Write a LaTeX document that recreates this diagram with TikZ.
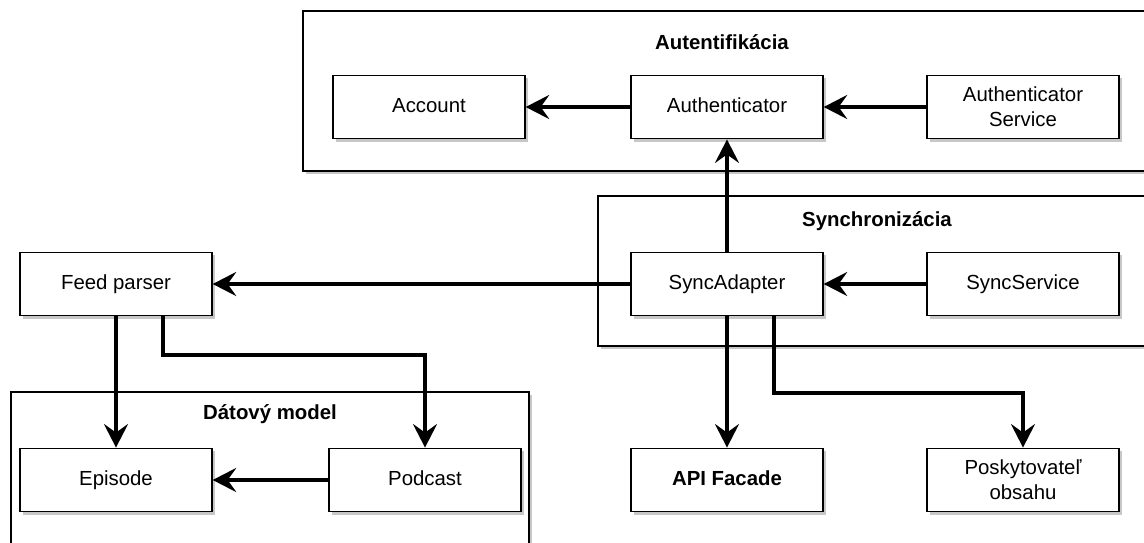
\documentclass[tikz,border=0pt]{standalone}
\usepackage{fontspec}
\setmainfont{Liberation Sans}
\usetikzlibrary{arrows.meta,shadows}

\begin{document}
\begin{tikzpicture}[x=0.02cm, y=-0.02cm,
        font=\fontsize{11.6}{14.2}\selectfont,
        shade/.style={drop shadow={shadow xshift=0.06cm, shadow yshift=-0.06cm, fill=black!22, opacity=1}},
        block/.style={draw, line width=0.8pt, fill=white, shade, minimum width=3.84cm, minimum height=1.27cm, align=center, inner sep=1pt},
        oneline/.style={block, text height=1.6ex, text depth=0.45ex},
        group/.style={draw, line width=0.8pt, fill=white, shade},
        grouptitle/.style={font=\fontsize{11.6}{14.2}\selectfont\bfseries},
        wire/.style={line width=2.3pt, -{Stealth[length=0.47cm, width=0.48cm, inset=0.17cm]}}]
        \useasboundingbox (0,0) rectangle (1144,542);
        % Groups:
        \draw[group] (303,11) rectangle (1150,171);
        \node[grouptitle](T1) at (722,42){Autentifikácia};
        \draw[group] (598,196) rectangle (1160,346);
        \node[grouptitle](T2) at (877,221){Synchronizácia};
        \draw[group] (11,392) rectangle (529,560);
        \node[grouptitle](T3) at (270,414){Dátový model};
        % Blocks:
        \node[oneline](account) at (429,107){Account};
        \node[oneline](auth) at (727,107){Authenticator};
        \node[block](authsvc) at (1023,107){Authenticator\\Service};
        \node[oneline](feed) at (116,284){Feed parser};
        \node[oneline](sync) at (727,284){SyncAdapter};
        \node[oneline](syncsvc) at (1023,284){SyncService};
        \node[oneline](episode) at (116,480){Episode};
        \node[oneline](podcast) at (425,480){Podcast};
        \node[oneline, font=\fontsize{11.6}{14.2}\selectfont\bfseries](api) at (727,480){API Facade};
        \node[block](provider) at (1023,480){Poskytovateľ\\obsahu};
        % Wires:
        \draw[wire] (auth) -- (account);
        \draw[wire] (authsvc) -- (auth);
        \draw[wire] (sync) -- (auth);
        \draw[wire] (syncsvc) -- (sync);
        \draw[wire] (sync) -- (feed);
        \draw[wire] (sync) -- (api);
        \draw[wire] ([xshift=0.94cm]sync.south) -- ++(0,77) -| (provider);
        \draw[wire] (feed) -- (episode);
        \draw[wire] ([xshift=0.94cm]feed.south) -- ++(0,39) -| (podcast);
        \draw[wire] (podcast) -- (episode);
    \end{tikzpicture}
\end{document}
